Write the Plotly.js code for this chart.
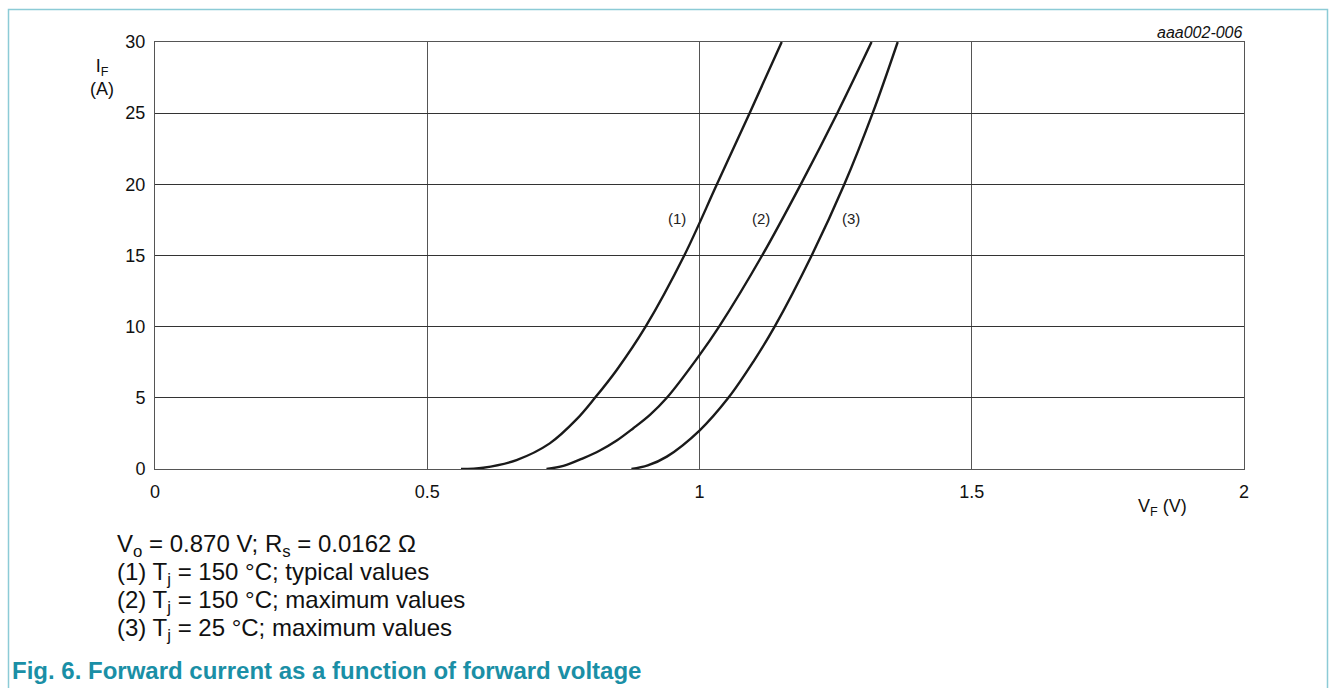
<!DOCTYPE html>
<html>
<head>
<meta charset="utf-8">
<script src="https://cdn.plot.ly/plotly-3.0.1.min.js"></script>
<style>
html,body{margin:0;padding:0;background:#fff;}
#chart{width:1330px;height:688px;}
</style>
</head>
<body>
<div id="chart"></div>
<script>
// Curve (1): Tj = 150 °C, typical
const v1 = [0.562, 0.603, 0.664, 0.725, 0.7745, 0.808, 0.848, 0.901, 0.972, 1.032, 1.092, 1.151];
const i1 = [0,     0.09,  0.63,  1.8,   3.5,    5,     6.96,  10,    15,    20,    25,    30];
// Curve (2): Tj = 150 °C, maximum
const v2 = [0.719, 0.750, 0.787, 0.817, 0.848, 0.878, 0.909, 0.940, 1.0, 1.036, 1.115, 1.186, 1.253, 1.316];
const i2 = [0,     0.22,  0.77,  1.3,   2.0,   2.85,  3.8,   5,     8.0, 10,    15,    20,    25,    30];
// Curve (3): Tj = 25 °C, maximum
const v3 = [0.875, 0.905, 0.940, 1.0, 1.053, 1.099, 1.138, 1.206, 1.266, 1.318, 1.364];
const i3 = [0,     0.25,  0.87,  2.7, 5,     7.55,  10,    15,    20,    25,    30];

const curveLabels = ['(1)', '(2)', '(3)'];
const labelV = [0.958, 1.113, 1.279];
const labelI = [17.6, 17.6, 17.6];

const xTicks = [0, 0.5, 1, 1.5, 2];
const xTickText = ['0', '0.5', '1', '1.5', '2'];
const yTicks = [0, 5, 10, 15, 20, 25, 30];

const notes = [
  'V<sub>o</sub> = 0.870 V; R<sub>s</sub> = 0.0162 Ω',
  '(1) T<sub>j</sub> = 150 °C; typical values',
  '(2) T<sub>j</sub> = 150 °C; maximum values',
  '(3) T<sub>j</sub> = 25 °C; maximum values'
];
const figTitle = 'Fig. 6. Forward current as a function of forward voltage';
const figCode = 'aaa002-006';

const FONT = 'Liberation Sans, Arial, sans-serif';
const lineStyle = {color: '#1a1a1a', width: 2.4, shape: 'spline', smoothing: 1.0};

const traces = [
  {x: v1, y: i1, mode: 'lines', line: lineStyle, hoverinfo: 'skip'},
  {x: v2, y: i2, mode: 'lines', line: lineStyle, hoverinfo: 'skip'},
  {x: v3, y: i3, mode: 'lines', line: lineStyle, hoverinfo: 'skip'}
];

// plot area: x 155..1244 px, y 42..469 px
const L = 155, R = 1244, T = 42, B = 469;
const px = p => (p - L) / (R - L);
const py = p => (B - p) / (B - T);

const annotations = [];
curveLabels.forEach((t, k) => {
  annotations.push({x: labelV[k], y: labelI[k], xref: 'x', yref: 'y', text: t, showarrow: false,
    font: {family: FONT, size: 15, color: '#222'}, xanchor: 'center', yanchor: 'middle'});
});
annotations.push({x: px(102), y: py(77), xref: 'paper', yref: 'paper', text: 'I<sub>F</sub><br>(A)',
  showarrow: false, font: {family: FONT, size: 18, color: '#111'}, xanchor: 'center', yanchor: 'middle', align: 'center'});
annotations.push({x: px(1162), y: py(507), xref: 'paper', yref: 'paper', text: 'V<sub>F</sub> (V)',
  showarrow: false, font: {family: FONT, size: 18, color: '#111'}, xanchor: 'center', yanchor: 'middle'});
annotations.push({x: px(1245), y: py(33), xref: 'paper', yref: 'paper', text: '<i>' + figCode + '</i>',
  showarrow: false, font: {family: FONT, size: 16, color: '#111'}, xanchor: 'right', yanchor: 'middle'});
const noteY = [545, 573, 601, 629];
notes.forEach((t, k) => {
  annotations.push({x: px(115), y: py(noteY[k]), xref: 'paper', yref: 'paper', text: t, showarrow: false,
    font: {family: FONT, size: 24, color: '#111'}, xanchor: 'left', yanchor: 'middle', align: 'left'});
});
annotations.push({x: px(10), y: py(670), xref: 'paper', yref: 'paper', text: '<b>' + figTitle + '</b>', showarrow: false,
  font: {family: FONT, size: 24, color: '#1a8fa6'}, xanchor: 'left', yanchor: 'middle'});

const shapes = [
  {type: 'rect', xref: 'paper', yref: 'paper', x0: px(8.5), x1: px(1327.5), y0: py(720), y1: py(9.5),
   line: {color: '#8ccbd6', width: 1.5}, fillcolor: 'rgba(0,0,0,0)', layer: 'below'}
];

const layout = {
  width: 1330, height: 688,
  margin: {l: L, r: 1330 - R, t: T, b: 688 - B, pad: 0},
  paper_bgcolor: '#fff', plot_bgcolor: '#fff',
  showlegend: false,
  xaxis: {range: [0, 2], tickvals: xTicks, ticktext: xTickText, showgrid: true, gridcolor: '#555', gridwidth: 1,
    zeroline: false, showline: true, linecolor: '#555', linewidth: 1, mirror: true, ticks: 'outside', ticklen: 6, tickcolor: 'rgba(0,0,0,0)',
    tickfont: {family: FONT, size: 18, color: '#111'}, fixedrange: true},
  yaxis: {range: [0, 30], tickvals: yTicks, showgrid: true, gridcolor: '#333', gridwidth: 1,
    zeroline: false, showline: true, linecolor: '#555', linewidth: 1, mirror: true, ticks: 'outside', ticklen: 5, tickcolor: 'rgba(0,0,0,0)',
    tickfont: {family: FONT, size: 18, color: '#111'}, fixedrange: true},
  annotations: annotations,
  shapes: shapes
};

Plotly.newPlot('chart', traces, layout, {displayModeBar: false, staticPlot: true});
</script>
</body>
</html>
